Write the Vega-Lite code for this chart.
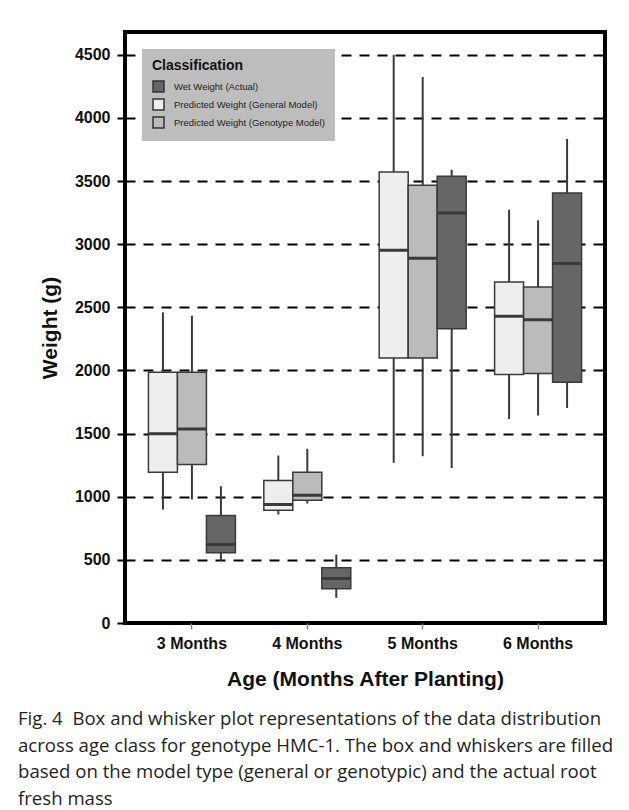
{
  "$schema": "https://vega.github.io/schema/vega-lite/v6.json",
  "width": 480,
  "height": 591,
  "autosize": {"type": "none"},
  "padding": {"left": 125, "top": 32, "right": 24, "bottom": 187},
  "background": "white",
  "title": {
    "text": [
      "Fig. 4\u00a0\u00a0Box and whisker plot representations of the data distribution",
      "across age class for genotype HMC-1. The box and whiskers are filled",
      "based on the model type (general or genotypic) and the actual root",
      "fresh mass"
    ],
    "orient": "bottom",
    "anchor": "start",
    "frame": "group",
    "dx": -107,
    "offset": 21,
    "font": "Open Sans",
    "fontSize": 18.6,
    "fontWeight": "normal",
    "lineHeight": 26.6,
    "color": "#231f20",
    "baseline": "top"
  },
  "data": {
    "values": [
      {"Age": "3 Months", "Classification": "Predicted Weight (General Model)", "min": 898, "q1": 1194, "median": 1498, "q3": 1985, "max": 2460},
      {"Age": "3 Months", "Classification": "Predicted Weight (Genotype Model)", "min": 978, "q1": 1255, "median": 1537, "q3": 1985, "max": 2434},
      {"Age": "3 Months", "Classification": "Wet Weight (Actual)", "min": 489, "q1": 556, "median": 621, "q3": 851, "max": 1083},
      {"Age": "4 Months", "Classification": "Predicted Weight (General Model)", "min": 859, "q1": 893, "median": 938, "q3": 1128, "max": 1326},
      {"Age": "4 Months", "Classification": "Predicted Weight (Genotype Model)", "min": 946, "q1": 972, "median": 1012, "q3": 1194, "max": 1379},
      {"Age": "4 Months", "Classification": "Wet Weight (Actual)", "min": 199, "q1": 271, "median": 352, "q3": 437, "max": 542},
      {"Age": "5 Months", "Classification": "Predicted Weight (General Model)", "min": 1268, "q1": 2099, "median": 2951, "q3": 3572, "max": 4500},
      {"Age": "5 Months", "Classification": "Predicted Weight (Genotype Model)", "min": 1320, "q1": 2099, "median": 2888, "q3": 3466, "max": 4324},
      {"Age": "5 Months", "Classification": "Wet Weight (Actual)", "min": 1228, "q1": 2331, "median": 3247, "q3": 3537, "max": 3590},
      {"Age": "6 Months", "Classification": "Predicted Weight (General Model)", "min": 1616, "q1": 1967, "median": 2429, "q3": 2701, "max": 3273},
      {"Age": "6 Months", "Classification": "Predicted Weight (Genotype Model)", "min": 1643, "q1": 1975, "median": 2402, "q3": 2661, "max": 3189},
      {"Age": "6 Months", "Classification": "Wet Weight (Actual)", "min": 1703, "q1": 1906, "median": 2846, "q3": 3405, "max": 3833}
    ]
  },
  "encoding": {
    "x": {
      "field": "Age",
      "type": "nominal",
      "sort": ["3 Months", "4 Months", "5 Months", "6 Months"],
      "scale": {"paddingInner": 0, "paddingOuter": 0.08},
      "axis": {
        "title": "Age (Months After Planting)",
        "labelAngle": 0,
        "labelFont": "Liberation Sans",
        "labelFontSize": 16,
        "labelFontWeight": "bold",
        "labelColor": "#111111",
        "labelPadding": 6,
        "tickColor": "#888888",
        "tickSize": 6,
        "tickWidth": 1.5,
        "domain": false,
        "grid": false,
        "titleFont": "Liberation Sans",
        "titleFontSize": 21,
        "titleFontWeight": "bold",
        "titleColor": "#111111",
        "titlePadding": 17
      }
    },
    "xOffset": {
      "field": "Classification",
      "type": "nominal",
      "sort": ["Predicted Weight (General Model)", "Predicted Weight (Genotype Model)", "Wet Weight (Actual)"],
      "scale": {"paddingInner": 0, "paddingOuter": 0.49}
    }
  },
  "layer": [
    {
      "mark": {"type": "rule", "stroke": "#3a3a3a", "strokeWidth": 2},
      "encoding": {
        "y": {
          "field": "min",
          "type": "quantitative",
          "scale": {"domain": [0, 4680], "nice": false, "zero": true},
          "axis": {
            "title": "Weight (g)",
            "values": [0, 500, 1000, 1500, 2000, 2500, 3000, 3500, 4000, 4500],
            "format": "d",
            "labelFont": "Liberation Sans",
            "labelFontSize": 16,
            "labelFontWeight": "bold",
            "labelColor": "#111111",
            "labelPadding": 7,
            "tickColor": "black",
            "tickSize": 8,
            "tickWidth": 2,
            "domain": false,
            "grid": true,
            "gridColor": "black",
            "gridDash": [10, 8],
            "gridWidth": 2,
            "gridOpacity": 1,
            "titleFont": "Liberation Sans",
            "titleFontSize": 21,
            "titleFontWeight": "bold",
            "titleColor": "#111111",
            "titlePadding": 14
          }
        },
        "y2": {"field": "max"}
      }
    },
    {
      "mark": {"type": "bar", "stroke": "#3a3a3a", "strokeWidth": 1.5},
      "encoding": {
        "y": {"field": "q1", "type": "quantitative"},
        "y2": {"field": "q3"},
        "color": {
          "field": "Classification",
          "type": "nominal",
          "scale": {
            "domain": ["Wet Weight (Actual)", "Predicted Weight (General Model)", "Predicted Weight (Genotype Model)"],
            "range": ["#666666", "#eeeeee", "#bbbbbb"]
          },
          "legend": {
            "title": "Classification",
            "orient": "top-left",
            "offset": 17,
            "fillColor": "#bdbdbd",
            "padding": 10,
            "titleFont": "Liberation Sans",
            "titleFontSize": 14,
            "titleFontWeight": "bold",
            "titleColor": "#111111",
            "titlePadding": 7,
            "labelFont": "Liberation Sans",
            "labelFontSize": 9.5,
            "labelColor": "#222222",
            "labelOffset": 9,
            "rowPadding": 1,
            "symbolType": "square",
            "symbolSize": 120,
            "symbolStrokeColor": "#333333",
            "symbolStrokeWidth": 1.5,
            "symbolOpacity": 1
          }
        }
      }
    },
    {
      "mark": {"type": "bar", "stroke": "#3a3a3a", "strokeWidth": 3, "fill": "#3a3a3a"},
      "encoding": {
        "y": {"field": "median", "type": "quantitative"},
        "y2": {"field": "median"}
      }
    }
  ],
  "config": {
    "view": {"stroke": "black", "strokeWidth": 4},
    "axis": {"labelFlush": false}
  }
}
